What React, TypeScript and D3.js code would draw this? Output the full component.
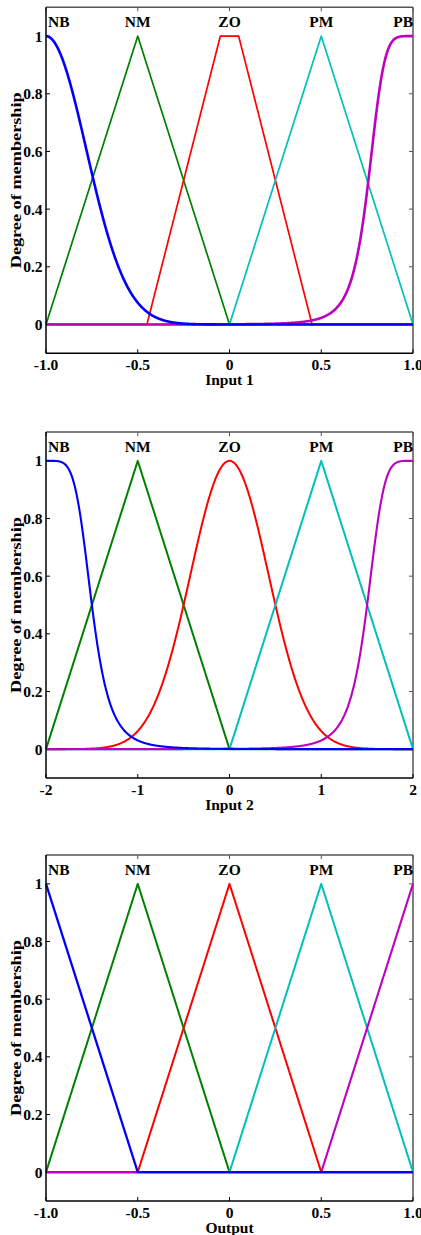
import React from 'react';
import * as d3 from 'd3';

// ---- data ----
const mfNames = ['NB', 'NM', 'ZO', 'PM', 'PB'];
const mfColors = ['#0000ff', '#008000', '#ff0000', '#00bfbf', '#bf00bf'];
const drawOrder = [1, 2, 3, 4, 0];

const yTicks = [0, 0.2, 0.4, 0.6, 0.8, 1];
const yTickLabels = ['0', '0.2', '0.4', '0.6', '0.8', '1'];

const input1Domain = [-1, 1];
const input1Ticks = [-1, -0.5, 0, 0.5, 1];
const input1TickLabels = ['-1.0', '-0.5', '0', '0.5', '1.0'];
const input1Types = ['gauss', 'tri', 'trap', 'tri', 'gbell'];
const input1Params = [
  [0.22, -1],
  [-1, -0.5, 0],
  [-0.45, -0.05, 0.05, 0.45],
  [0, 0.5, 1],
  [0.243, 2.6, 1],
];

const input2Domain = [-2, 2];
const input2Ticks = [-2, -1, 0, 1, 2];
const input2TickLabels = ['-2', '-1', '0', '1', '2'];
const input2Types = ['gbell', 'tri', 'gauss', 'tri', 'gbell'];
const input2Params = [
  [0.5, 2.5, -2],
  [-2, -1, 0],
  [0.425, 0],
  [0, 1, 2],
  [0.5, 2.5, 2],
];

const outputDomain = [-1, 1];
const outputTicks = [-1, -0.5, 0, 0.5, 1];
const outputTickLabels = ['-1.0', '-0.5', '0', '0.5', '1.0'];
const outputTypes = ['tri', 'tri', 'tri', 'tri', 'tri'];
const outputParams = [
  [-1, -1, -0.5],
  [-1, -0.5, 0],
  [-0.5, 0, 0.5],
  [0, 0.5, 1],
  [0.5, 1, 1],
];

const panelTitles = ['Input 1', 'Input 2', 'Output'];

// ---- membership functions ----
function mf(type: string, p: number[], x: number): number {
  if (type === 'gauss') {
    const [s, c] = p;
    return Math.exp(-((x - c) * (x - c)) / (2 * s * s));
  }
  if (type === 'gbell') {
    const [a, b, c] = p;
    return 1 / (1 + Math.pow(Math.abs((x - c) / a), 2 * b));
  }
  if (type === 'tri') {
    const [a, b, c] = p;
    if (x < a || x > c) return 0;
    if (x <= b) return b === a ? 1 : (x - a) / (b - a);
    return c === b ? 1 : (c - x) / (c - b);
  }
  if (type === 'trap') {
    const [a, b, c, d] = p;
    if (x < a || x > d) return 0;
    if (x < b) return (x - a) / (b - a);
    if (x <= c) return 1;
    return (d - x) / (d - c);
  }
  return 0;
}

const FONT = '"Liberation Serif", "Times New Roman", serif';
const W = 421;
const H = 1235;
const LEFT = 46;
const RIGHT = 413;
const panelTops = [7.3, 432, 855];
const PANEL_H = 346;

type PanelProps = {
  top: number;
  domain: number[];
  ticks: number[];
  tickLabels: string[];
  types: string[];
  params: number[][];
  title: string;
  widths: number[];
};

function Panel({ top, domain, ticks, tickLabels, types, params, title, widths }: PanelProps) {
  const bottom = top + PANEL_H;
  const x = d3.scaleLinear().domain(domain).range([LEFT, RIGHT]);
  const y = d3.scaleLinear().domain([-0.1, 1.1]).range([bottom, top]);
  const xs = d3.range(0, 801).map((i) => domain[0] + ((domain[1] - domain[0]) * i) / 800);
  const line = d3
    .line<[number, number]>()
    .x((d) => x(d[0]))
    .y((d) => y(d[1]));
  const tl = 4;
  return (
    <g>
      {/* box */}
      <line x1={LEFT} x2={RIGHT} y1={top} y2={top} stroke="#555" strokeWidth={1.5} />
      <line x1={RIGHT} x2={RIGHT} y1={top} y2={bottom} stroke="#555" strokeWidth={1.5} />
      {/* ticks */}
      {ticks.map((t, i) => (
        <g key={'xt' + i}>
          <line x1={x(t)} x2={x(t)} y1={bottom} y2={bottom - tl} stroke="#000" strokeWidth={1} />
          <line x1={x(t)} x2={x(t)} y1={top} y2={top + tl} stroke="#555" strokeWidth={1} />
          <text
            x={x(t)}
            y={bottom + 16.5}
            textAnchor="middle"
            fontFamily={FONT}
            fontWeight="bold"
            fontSize={15.5}
          >
            {tickLabels[i]}
          </text>
        </g>
      ))}
      {yTicks.map((t, i) => (
        <g key={'yt' + i}>
          <line x1={LEFT} x2={LEFT + tl} y1={y(t)} y2={y(t)} stroke="#000" strokeWidth={1} />
          <line x1={RIGHT} x2={RIGHT - tl} y1={y(t)} y2={y(t)} stroke="#555" strokeWidth={1} />
          <text
            x={42.5}
            y={y(t)}
            textAnchor="end"
            dominantBaseline="central"
            fontFamily={FONT}
            fontWeight="bold"
            fontSize={15.5}
          >
            {yTickLabels[i]}
          </text>
        </g>
      ))}
      {/* curves */}
      {drawOrder.map((k) => {
        const pts: [number, number][] = xs.map((v) => [v, mf(types[k], params[k], v)]);
        return (
          <path
            key={'c' + k}
            d={line(pts) || ''}
            fill="none"
            stroke={mfColors[k]}
            strokeWidth={widths[k]}
            strokeLinejoin="round"
          />
        );
      })}
      {/* MF labels */}
      {mfNames.map((n, k) => {
        const anchor = k === 0 ? 'start' : k === 4 ? 'end' : 'middle';
        const peakX = k === 0 ? x(domain[0]) + 2 : k === 4 ? x(domain[1]) : x(ticks[k]);
        return (
          <text
            key={'n' + k}
            x={peakX}
            y={y(1.03)}
            textAnchor={anchor}
            fontFamily={FONT}
            fontWeight="bold"
            fontSize={15.5}
          >
            {n}
          </text>
        );
      })}
      {/* left & bottom axis */}
      <line x1={LEFT} x2={LEFT} y1={top} y2={bottom} stroke="#000" strokeWidth={1.5} />
      <line x1={LEFT} x2={RIGHT} y1={bottom} y2={bottom} stroke="#000" strokeWidth={1.5} />
      {/* titles */}
      <text
        x={(LEFT + RIGHT) / 2}
        y={bottom + 31.5}
        textAnchor="middle"
        fontFamily={FONT}
        fontWeight="bold"
        fontSize={15.5}
      >
        {title}
      </text>
      <text
        transform={`translate(15.3,${y(0.5)}) rotate(-90)`}
        textAnchor="middle"
        dominantBaseline="central"
        fontFamily={FONT}
        fontWeight="bold"
        fontSize={15.5}
        textLength={176}
        lengthAdjust="spacingAndGlyphs"
      >
        Degree of membership
      </text>
    </g>
  );
}

export default function App() {
  return (
    <svg
      width={W}
      height={H}
      style={{ position: 'absolute', left: 0, top: 0, display: 'block', background: '#fff' }}
    >
      <rect x={0} y={0} width={W} height={H} fill="#fff" />
      <Panel
        top={panelTops[0]}
        domain={input1Domain}
        ticks={input1Ticks}
        tickLabels={input1TickLabels}
        types={input1Types}
        params={input1Params}
        title={panelTitles[0]}
        widths={[2.6, 1.7, 1.7, 1.7, 2.6]}
      />
      <Panel
        top={panelTops[1]}
        domain={input2Domain}
        ticks={input2Ticks}
        tickLabels={input2TickLabels}
        types={input2Types}
        params={input2Params}
        title={panelTitles[1]}
        widths={[2.1, 2, 2, 2, 2.1]}
      />
      <Panel
        top={panelTops[2]}
        domain={outputDomain}
        ticks={outputTicks}
        tickLabels={outputTickLabels}
        types={outputTypes}
        params={outputParams}
        title={panelTitles[2]}
        widths={[2.3, 2, 2, 2, 2.1]}
      />
    </svg>
  );
}
